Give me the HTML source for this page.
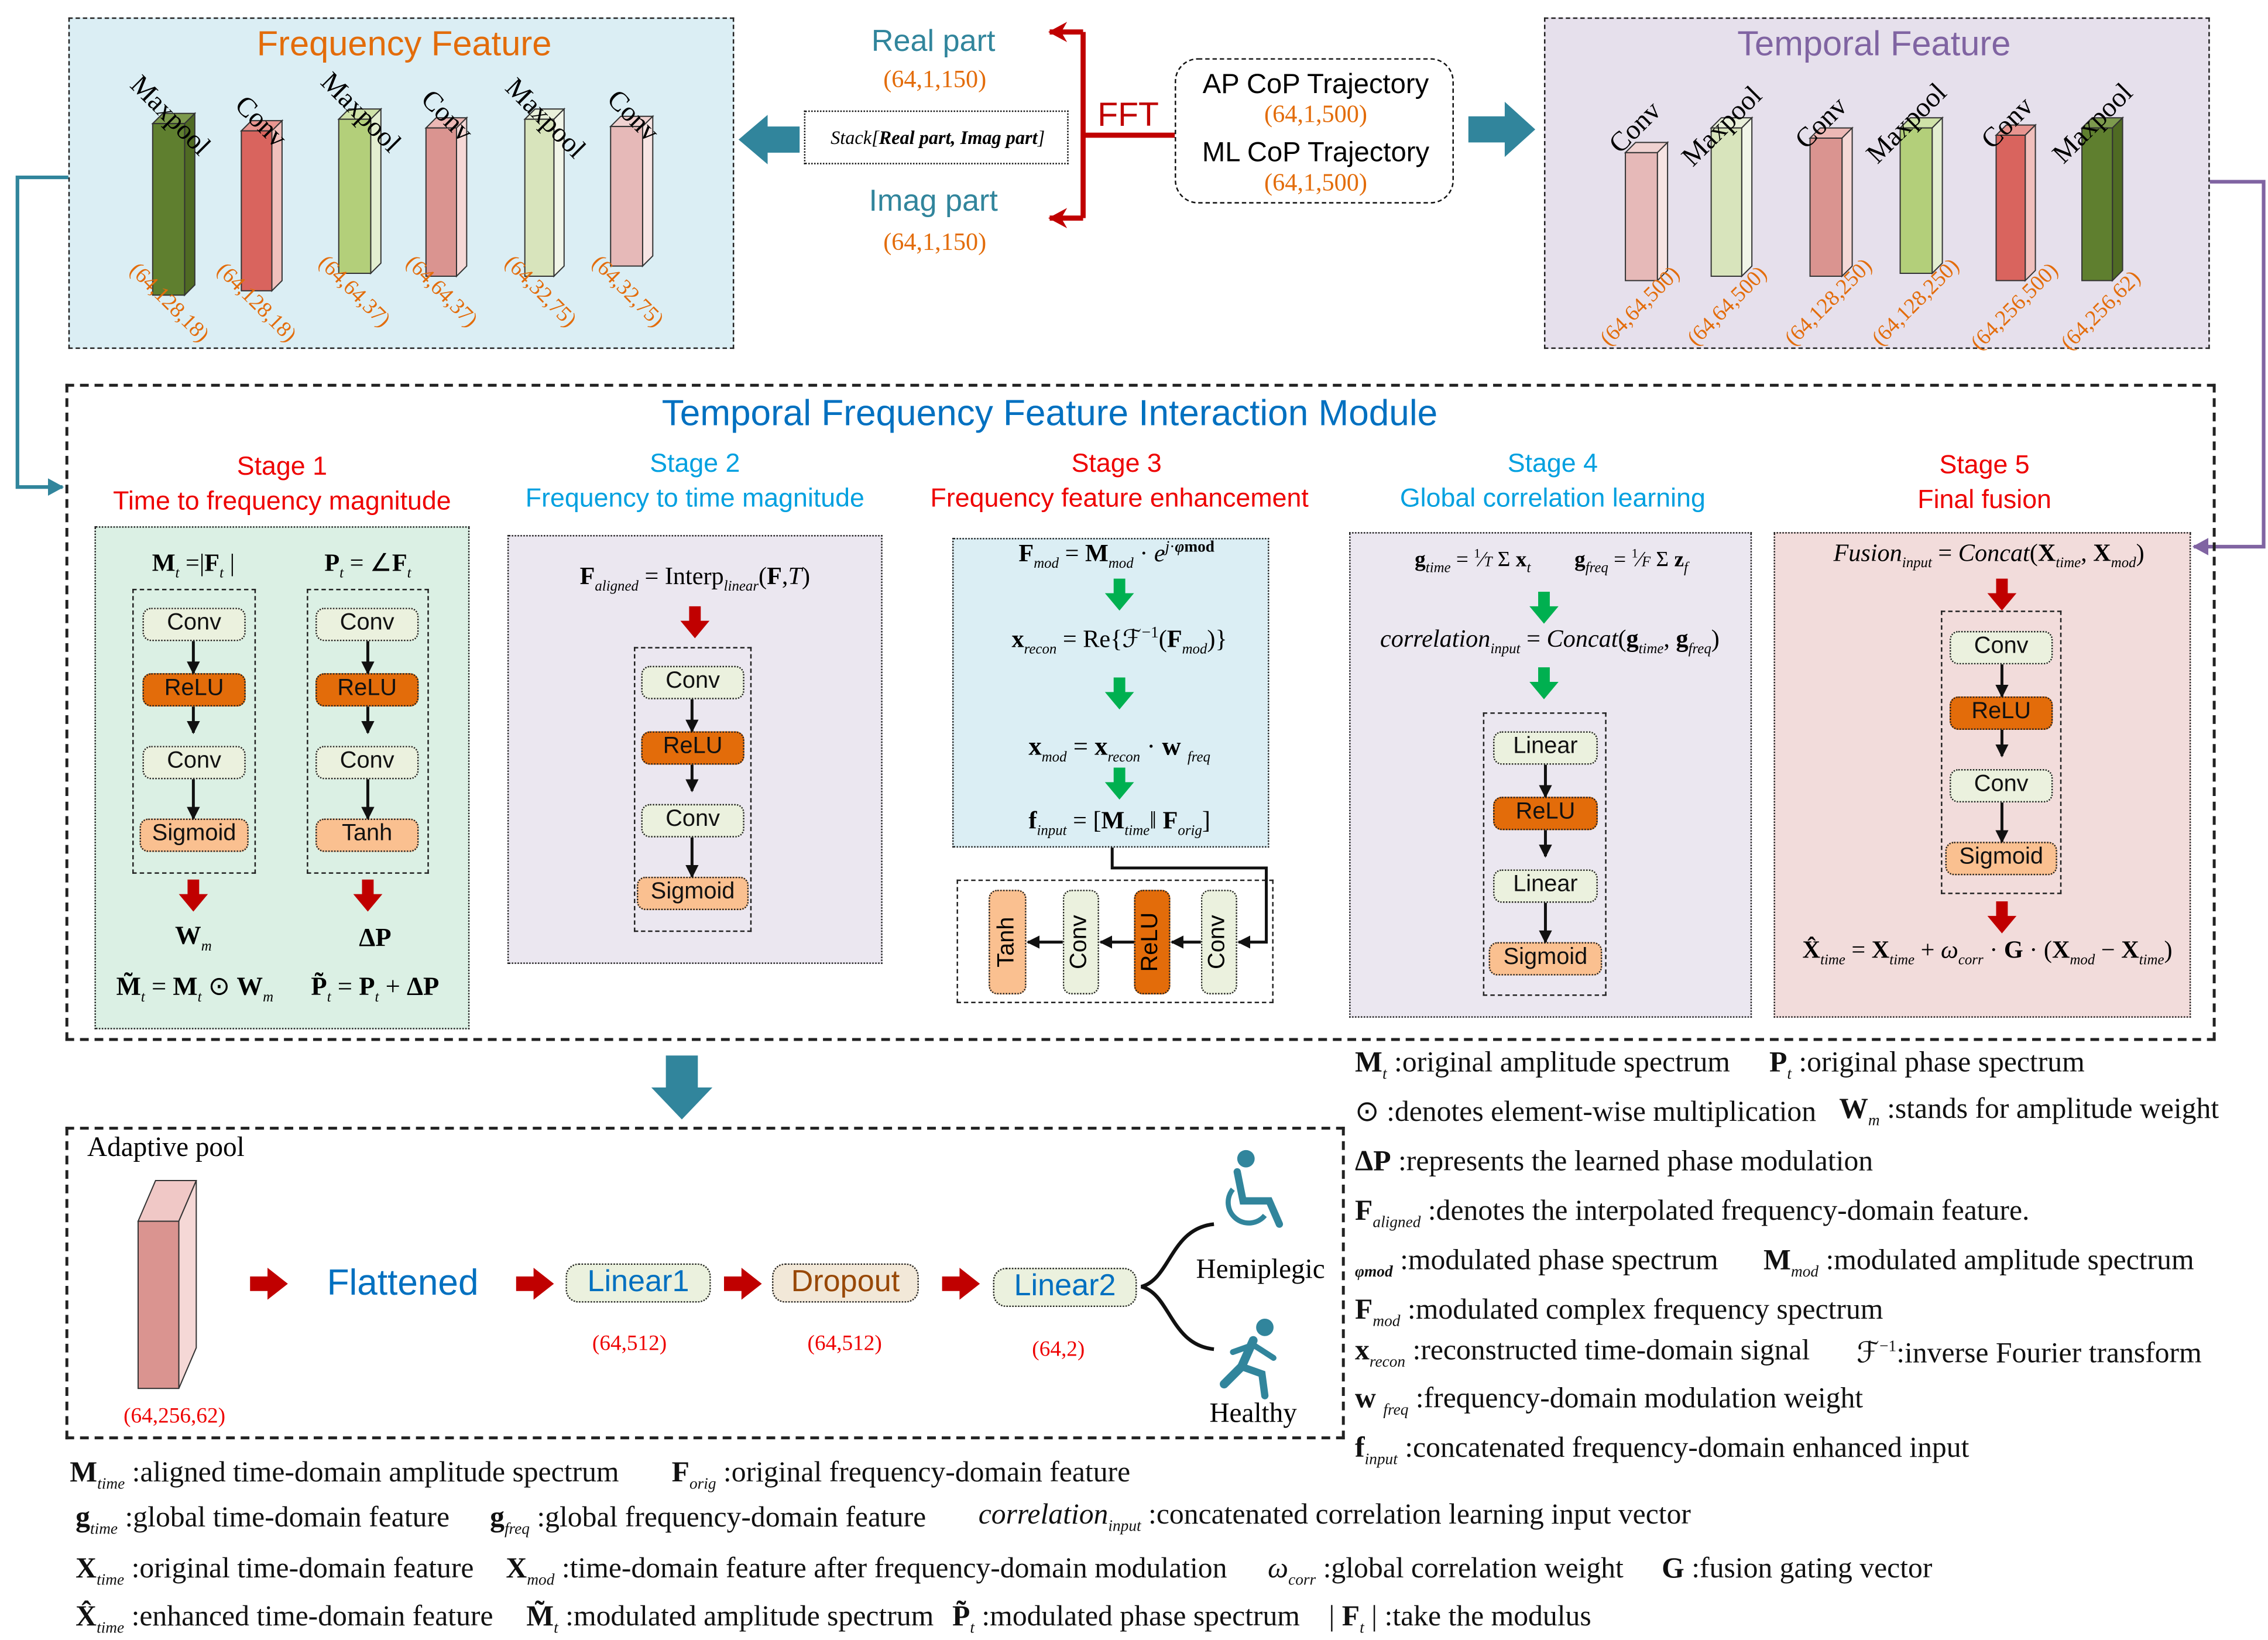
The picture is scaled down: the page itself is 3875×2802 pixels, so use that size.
<!DOCTYPE html>
<html><head><meta charset="utf-8">
<style>
html,body{margin:0;padding:0;background:#fff;}
body{width:3875px;height:2802px;overflow:hidden;position:relative;}
#w{position:absolute;left:0;top:0;width:1560px;height:1128px;transform:scale(2.48397);transform-origin:0 0;font-family:"Liberation Sans",sans-serif;}
.a{position:absolute;white-space:nowrap;}
.c{position:absolute;white-space:nowrap;transform:translate(-50%,-50%);}
.s{font-family:"Liberation Serif",serif;}
.box{position:absolute;box-sizing:border-box;}
.blk{position:absolute;box-sizing:border-box;border:1.6px dotted #222;border-radius:6px;font-size:16px;text-align:center;line-height:20px;background:#ebf1de;color:#111;}
.relu{background:#e36c0a;}
.sig{background:#fac090;}
.dd{position:absolute;box-sizing:border-box;border:1.3px dashed #222;}
.or{color:#e36c0a;font-family:"Liberation Serif",serif;font-size:17px;}
.rd{color:#e00;font-family:"Liberation Serif",serif;font-size:15px;}
.lg{position:absolute;white-space:nowrap;font-family:"Liberation Serif",serif;font-size:20px;color:#111;}
.f{font-family:"Liberation Serif",serif;font-size:16px;}
b{font-weight:bold;}
sub{font-size:10px;font-style:italic;}
.lg sub{font-size:11px;}
.rot{position:absolute;white-space:nowrap;transform-origin:0 0;}
</style></head><body><div id="w">

<div class="box" style="left:47px;top:12px;width:458px;height:228px;background:#dbeef4;border:1.5px dashed #222;"></div>
<div class="c" style="left:278px;top:31px;font-size:24px;color:#e36c0a;">Frequency Feature</div>
<div class="box" style="left:1062px;top:12px;width:458px;height:228px;background:#e6e0ec;border:1.5px dashed #222;"></div>
<div class="c" style="left:1289px;top:31px;font-size:24px;color:#8064a2;">Temporal Feature</div>

<svg class="a" style="left:0;top:0" width="1560" height="1128">
<defs>
<marker id="ar" markerWidth="14" markerHeight="14" refX="12" refY="7" orient="auto" markerUnits="userSpaceOnUse"><path d="M0,0 L13,7 L0,14 L4,7z" fill="#c00000"/></marker>
<marker id="at" markerWidth="12" markerHeight="12" refX="10" refY="6" orient="auto" markerUnits="userSpaceOnUse"><path d="M0,0 L11,6 L0,12z" fill="#31859c"/></marker>
<marker id="ap" markerWidth="12" markerHeight="12" refX="10" refY="6" orient="auto" markerUnits="userSpaceOnUse"><path d="M0,0 L11,6 L0,12z" fill="#8064a2"/></marker>
</defs>
<g stroke="#333" stroke-width="0.8">
<path d="M105,85 h22 l7,-7 h-22z" fill="#7d9a4d"/><path d="M127,85 l7,-7 v118 l-7,7z" fill="#4f6a23"/><rect x="105" y="85" width="22" height="118" fill="#5f7f2f"/>
<path d="M166,90 h21 l7,-7 h-21z" fill="#e89590"/><path d="M187,90 l7,-7 v110 l-7,7z" fill="#f0c0bc"/><rect x="166" y="90" width="21" height="110" fill="#d9645e"/>
<path d="M233,82 h22 l7,-7 h-22z" fill="#cfe2a8"/><path d="M255,82 l7,-7 v106 l-7,7z" fill="#e3eed0"/><rect x="233" y="82" width="22" height="106" fill="#b3cf7a"/>
<path d="M293,88 h21 l7,-7 h-21z" fill="#ecb8b5"/><path d="M314,88 l7,-7 v102 l-7,7z" fill="#f5d8d6"/><rect x="293" y="88" width="21" height="102" fill="#da9490"/>
<path d="M361,82 h20 l7,-7 h-20z" fill="#e9f0da"/><path d="M381,82 l7,-7 v108 l-7,7z" fill="#f1f5e8"/><rect x="361" y="82" width="20" height="108" fill="#d8e4bc"/>
<path d="M420,87 h22 l7,-7 h-22z" fill="#f0d2d1"/><path d="M442,87 l7,-7 v96 l-7,7z" fill="#f7e4e3"/><rect x="420" y="87" width="22" height="96" fill="#e6b9b8"/>
<path d="M1118,105 h22 l7,-7 h-22z" fill="#f0d2d1"/><path d="M1140,105 l7,-7 v88 l-7,7z" fill="#f7e4e3"/><rect x="1118" y="105" width="22" height="88" fill="#e6b9b8"/>
<path d="M1177,88 h21 l7,-7 h-21z" fill="#e9f0da"/><path d="M1198,88 l7,-7 v102 l-7,7z" fill="#f1f5e8"/><rect x="1177" y="88" width="21" height="102" fill="#d8e4bc"/>
<path d="M1245,95 h22 l7,-7 h-22z" fill="#ecb8b5"/><path d="M1267,95 l7,-7 v95 l-7,7z" fill="#f5d8d6"/><rect x="1245" y="95" width="22" height="95" fill="#da9490"/>
<path d="M1307,88 h22 l7,-7 h-22z" fill="#cfe2a8"/><path d="M1329,88 l7,-7 v100 l-7,7z" fill="#e3eed0"/><rect x="1307" y="88" width="22" height="100" fill="#b3cf7a"/>
<path d="M1373,93 h20 l7,-7 h-20z" fill="#e89590"/><path d="M1393,93 l7,-7 v100 l-7,7z" fill="#f0c0bc"/><rect x="1373" y="93" width="20" height="100" fill="#d9645e"/>
<path d="M1432,88 h21 l7,-7 h-21z" fill="#7d9a4d"/><path d="M1453,88 l7,-7 v105 l-7,7z" fill="#4f6a23"/><rect x="1432" y="88" width="21" height="105" fill="#5f7f2f"/>
<path d="M95,840 h28 l12,-28 h-28z" fill="#f0c8c6"/><path d="M123,840 l12,-28 v115 l-12,28z" fill="#f5d8d6"/><rect x="95" y="840" width="28" height="115" fill="#da9490"/>
</g>
<g stroke="#c00000" stroke-width="3.5" fill="none">
<path d="M810,93 H745 M745,22 V150" /><path d="M745,22 H722" marker-end="url(#ar)"/><path d="M745,150 H722" marker-end="url(#ar)"/>
</g>
<path d="M550,87 H528 V79 L508,96 L528,113 V105 H550z" fill="#31859c"/>
<path d="M1010,80 H1035 V70 L1056,89 L1035,108 V98 H1010z" fill="#31859c"/>
<path d="M458,726 H480 V748 H490 L469,770 L448,748 H458z" fill="#31859c"/>
<path d="M47,122 H12 V335 H43" stroke="#31859c" stroke-width="2.5" fill="none" marker-end="url(#at)"/>
<path d="M1520,125 H1557 V376 H1509" stroke="#8064a2" stroke-width="2.5" fill="none" marker-end="url(#ap)"/>
</svg>

<div class="rot s" style="left:100px;top:48px;font-size:19px;transform:rotate(45deg);">Maxpool</div>
<div class="rot s" style="left:172px;top:62px;font-size:19px;transform:rotate(45deg);">Conv</div>
<div class="rot s" style="left:231px;top:46px;font-size:19px;transform:rotate(45deg);">Maxpool</div>
<div class="rot s" style="left:300px;top:58px;font-size:19px;transform:rotate(45deg);">Conv</div>
<div class="rot s" style="left:358px;top:50px;font-size:19px;transform:rotate(45deg);">Maxpool</div>
<div class="rot s" style="left:428px;top:58px;font-size:19px;transform:rotate(45deg);">Conv</div>
<div class="rot or" style="left:97px;top:178px;font-size:15px;transform:rotate(45deg);">(64,128,18)</div>
<div class="rot or" style="left:157px;top:178px;font-size:15px;transform:rotate(45deg);">(64,128,18)</div>
<div class="rot or" style="left:227px;top:173px;font-size:15px;transform:rotate(45deg);">(64,64,37)</div>
<div class="rot or" style="left:287px;top:173px;font-size:15px;transform:rotate(45deg);">(64,64,37)</div>
<div class="rot or" style="left:355px;top:173px;font-size:15px;transform:rotate(45deg);">(64,32,75)</div>
<div class="rot or" style="left:415px;top:173px;font-size:15px;transform:rotate(45deg);">(64,32,75)</div>
<div class="rot s" style="left:1103px;top:95px;font-size:19px;transform:rotate(-45deg);">Conv</div>
<div class="rot s" style="left:1153px;top:104px;font-size:19px;transform:rotate(-45deg);">Maxpool</div>
<div class="rot s" style="left:1231px;top:92px;font-size:19px;transform:rotate(-45deg);">Conv</div>
<div class="rot s" style="left:1280px;top:102px;font-size:19px;transform:rotate(-45deg);">Maxpool</div>
<div class="rot s" style="left:1359px;top:92px;font-size:19px;transform:rotate(-45deg);">Conv</div>
<div class="rot s" style="left:1408px;top:102px;font-size:19px;transform:rotate(-45deg);">Maxpool</div>
<div class="rot or" style="left:1098px;top:230px;font-size:15px;transform:rotate(-45deg);">(64,64,500)</div>
<div class="rot or" style="left:1158px;top:230px;font-size:15px;transform:rotate(-45deg);">(64,64,500)</div>
<div class="rot or" style="left:1225px;top:230px;font-size:15px;transform:rotate(-45deg);">(64,128,250)</div>
<div class="rot or" style="left:1285px;top:230px;font-size:15px;transform:rotate(-45deg);">(64,128,250)</div>
<div class="rot or" style="left:1353px;top:233px;font-size:15px;transform:rotate(-45deg);">(64,256,500)</div>
<div class="rot or" style="left:1415px;top:233px;font-size:15px;transform:rotate(-45deg);">(64,256,62)</div>

<div class="c" style="left:642px;top:29px;font-size:21px;color:#31859c;">Real part</div>
<div class="c or" style="left:643px;top:55px;">(64,1,150)</div>
<div class="box" style="left:553px;top:76px;width:182px;height:37px;border:1.5px dotted #111;"></div>
<div class="c s" style="left:645px;top:95px;font-size:13px;font-style:italic;">Stack[<b>Real part, Imag part</b>]</div>
<div class="c" style="left:776px;top:79px;font-size:23px;color:#c00000;">FFT</div>
<div class="c" style="left:642px;top:139px;font-size:21px;color:#31859c;">Imag part</div>
<div class="c or" style="left:643px;top:167px;">(64,1,150)</div>
<div class="box" style="left:808px;top:40px;width:192px;height:100px;border:1.8px dashed #111;border-radius:16px;background:#fff;"></div>
<div class="c" style="left:905px;top:59px;font-size:19px;">AP CoP Trajectory</div>
<div class="c or" style="left:905px;top:79px;">(64,1,500)</div>
<div class="c" style="left:905px;top:106px;font-size:19px;">ML CoP Trajectory</div>
<div class="c or" style="left:905px;top:126px;">(64,1,500)</div>

<div class="box" style="left:45px;top:264px;width:1479px;height:452px;border:2px dashed #222;"></div>
<div class="c" style="left:722px;top:285px;font-size:25px;color:#0070c0;">Temporal Frequency Feature Interaction Module</div>

<div class="c" style="left:194px;top:321px;font-size:18px;color:#e00;">Stage 1</div>
<div class="c" style="left:194px;top:345px;font-size:18px;color:#e00;">Time to frequency magnitude</div>
<div class="c" style="left:478px;top:319px;font-size:18px;color:#00a0e0;">Stage 2</div>
<div class="c" style="left:478px;top:343px;font-size:18px;color:#00a0e0;">Frequency to time magnitude</div>
<div class="c" style="left:768px;top:319px;font-size:18px;color:#e00;">Stage 3</div>
<div class="c" style="left:770px;top:343px;font-size:18px;color:#e00;">Frequency feature enhancement</div>
<div class="c" style="left:1068px;top:319px;font-size:18px;color:#00a0e0;">Stage 4</div>
<div class="c" style="left:1068px;top:343px;font-size:18px;color:#00a0e0;">Global correlation learning</div>
<div class="c" style="left:1365px;top:320px;font-size:18px;color:#e00;">Stage 5</div>
<div class="c" style="left:1365px;top:344px;font-size:18px;color:#e00;">Final fusion</div>

<div class="box" style="left:65px;top:362px;width:258px;height:346px;background:#dbf0e4;border:1.5px dotted #222;"></div>
<div class="box" style="left:349px;top:368px;width:258px;height:295px;background:#ebe7f0;border:1.5px dotted #222;"></div>
<div class="box" style="left:655px;top:370px;width:218px;height:213px;background:#dbeef4;border:1.5px dotted #222;"></div>
<div class="box" style="left:658px;top:605px;width:218px;height:85px;border:1.5px dashed #222;"></div>
<div class="box" style="left:928px;top:366px;width:277px;height:334px;background:#ebe7f0;border:1.5px dotted #222;"></div>
<div class="box" style="left:1220px;top:366px;width:287px;height:334px;background:#f2dcdb;border:1.5px dotted #222;"></div>

<div class="c f" style="left:133px;top:389px;font-size:17px;"><b>M</b><sub>t</sub> =|<b>F</b><sub>t</sub> |</div>
<div class="c f" style="left:253px;top:389px;font-size:17px;"><b>P</b><sub>t</sub> = ∠<b>F</b><sub>t</sub></div>
<div class="dd" style="left:91px;top:405px;width:85px;height:196px;"></div>
<div class="dd" style="left:211px;top:405px;width:84px;height:196px;"></div>
<div class="blk" style="left:98px;top:418px;width:71px;height:23px;">Conv</div>
<div class="blk relu" style="left:98px;top:463px;width:71px;height:23px;">ReLU</div>
<div class="blk" style="left:98px;top:513px;width:71px;height:23px;">Conv</div>
<div class="blk sig" style="left:96px;top:563px;width:75px;height:23px;">Sigmoid</div>
<div class="blk" style="left:217px;top:418px;width:71px;height:23px;">Conv</div>
<div class="blk relu" style="left:217px;top:463px;width:71px;height:23px;">ReLU</div>
<div class="blk" style="left:217px;top:513px;width:71px;height:23px;">Conv</div>
<div class="blk sig" style="left:217px;top:563px;width:71px;height:23px;">Tanh</div>
<div class="c f" style="left:133px;top:645px;font-size:18px;"><b>W</b><sub>m</sub></div>
<div class="c f" style="left:258px;top:645px;font-size:18px;"><b>ΔP</b></div>
<div class="c f" style="left:134px;top:680px;font-size:18px;"><b>M̃</b><sub>t</sub> = <b>M</b><sub>t</sub> ⊙ <b>W</b><sub>m</sub></div>
<div class="c f" style="left:258px;top:680px;font-size:18px;"><b>P̃</b><sub>t</sub> = <b>P</b><sub>t</sub> + <b>ΔP</b></div>

<div class="c f" style="left:478px;top:398px;font-size:17px;"><b>F</b><sub>aligned</sub> = Interp<sub>linear</sub>(<b>F</b>,<i>T</i>)</div>
<div class="dd" style="left:436px;top:445px;width:81px;height:196px;"></div>
<div class="blk" style="left:441px;top:458px;width:71px;height:23px;">Conv</div>
<div class="blk relu" style="left:441px;top:503px;width:71px;height:23px;">ReLU</div>
<div class="blk" style="left:441px;top:553px;width:71px;height:23px;">Conv</div>
<div class="blk sig" style="left:438px;top:603px;width:77px;height:23px;">Sigmoid</div>

<div class="c f" style="left:768px;top:382px;font-size:17px;"><b>F</b><sub>mod</sub> = <b>M</b><sub>mod</sub> · <i>e</i><sup style="font-size:11px"><i>j</i>·<b><i>φ</i>mod</b></sup></div>
<div class="c f" style="left:770px;top:441px;font-size:17px;"><b>x</b><sub>recon</sub> = Re{ℱ<sup style="font-size:11px">−1</sup>(<b>F</b><sub>mod</sub>)}</div>
<div class="c f" style="left:770px;top:515px;font-size:18px;"><b>x</b><sub>mod</sub> = <b>x</b><sub>recon</sub> · <b>w</b> <sub>freq</sub></div>
<div class="c f" style="left:770px;top:566px;font-size:17px;"><b>f</b><sub>input</sub> = [<b>M</b><sub>time</sub>‖ <b>F</b><sub>orig</sub>]</div>
<div class="blk sig" style="left:680px;top:612px;width:26px;height:72px;"></div>
<div class="c" style="left:693px;top:648px;font-size:16px;transform:translate(-50%,-50%) rotate(-90deg);">Tanh</div>
<div class="blk" style="left:731px;top:612px;width:25px;height:72px;"></div>
<div class="c" style="left:743px;top:648px;font-size:16px;transform:translate(-50%,-50%) rotate(-90deg);">Conv</div>
<div class="blk relu" style="left:780px;top:612px;width:25px;height:72px;"></div>
<div class="c" style="left:792px;top:648px;font-size:16px;transform:translate(-50%,-50%) rotate(-90deg);">ReLU</div>
<div class="blk" style="left:826px;top:612px;width:25px;height:72px;"></div>
<div class="c" style="left:838px;top:648px;font-size:16px;transform:translate(-50%,-50%) rotate(-90deg);">Conv</div>

<div class="c f" style="left:1013px;top:386px;font-size:15px;"><b>g</b><sub>time</sub> = <sup style="font-size:9px">1</sup>⁄<i style="font-size:10px">T</i> Σ <b>x</b><sub>t</sub></div>
<div class="c f" style="left:1122px;top:386px;font-size:15px;"><b>g</b><sub>freq</sub> = <sup style="font-size:9px">1</sup>⁄<i style="font-size:10px">F</i> Σ <b>z</b><sub>f</sub></div>
<div class="c f" style="left:1066px;top:441px;font-size:17px;"><i>correlation</i><sub>input</sub> = <i>Concat</i>(<b>g</b><sub>time</sub>, <b>g</b><sub>freq</sub>)</div>
<div class="dd" style="left:1020px;top:490px;width:85px;height:195px;"></div>
<div class="blk" style="left:1027px;top:503px;width:72px;height:23px;">Linear</div>
<div class="blk relu" style="left:1027px;top:548px;width:72px;height:23px;">ReLU</div>
<div class="blk" style="left:1027px;top:598px;width:72px;height:23px;">Linear</div>
<div class="blk sig" style="left:1024px;top:648px;width:78px;height:23px;">Sigmoid</div>

<div class="c f" style="left:1368px;top:382px;font-size:17px;"><i>Fusion</i><sub>input</sub> = <i>Concat</i>(<b>X</b><sub>time</sub>, <b>X</b><sub>mod</sub>)</div>
<div class="dd" style="left:1335px;top:420px;width:83px;height:195px;"></div>
<div class="blk" style="left:1341px;top:434px;width:71px;height:23px;">Conv</div>
<div class="blk relu" style="left:1341px;top:479px;width:71px;height:23px;">ReLU</div>
<div class="blk" style="left:1341px;top:529px;width:71px;height:23px;">Conv</div>
<div class="blk sig" style="left:1338px;top:579px;width:77px;height:23px;">Sigmoid</div>
<div class="c f" style="left:1367px;top:655px;font-size:17px;"><b>X̂</b><sub>time</sub> = <b>X</b><sub>time</sub> + <i>ω</i><sub>corr</sub> · <b>G</b> · (<b>X</b><sub>mod</sub> − <b>X</b><sub>time</sub>)</div>

<div class="box" style="left:45px;top:775px;width:880px;height:215px;border:2px dashed #222;"></div>
<div class="a s" style="left:60px;top:779px;font-size:19px;">Adaptive pool</div>
<div class="c rd" style="left:120px;top:975px;">(64,256,62)</div>
<div class="c" style="left:277px;top:883px;font-size:25px;color:#0070c0;">Flattened</div>
<div class="blk" style="left:389px;top:869px;width:100px;height:27px;font-size:21px;line-height:24px;color:#0070c0;border-radius:9px;">Linear1</div>
<div class="blk" style="left:531px;top:869px;width:101px;height:27px;font-size:21px;line-height:24px;color:#984807;background:#f2e8d8;border-radius:9px;">Dropout</div>
<div class="blk" style="left:683px;top:872px;width:99px;height:27px;font-size:21px;line-height:24px;color:#0070c0;border-radius:9px;">Linear2</div>
<div class="c rd" style="left:433px;top:925px;">(64,512)</div>
<div class="c rd" style="left:581px;top:925px;">(64,512)</div>
<div class="c rd" style="left:728px;top:929px;">(64,2)</div>
<div class="c s" style="left:867px;top:874px;font-size:19px;">Hemiplegic</div>
<div class="c s" style="left:862px;top:973px;font-size:19px;">Healthy</div>

<svg class="a" style="left:0;top:0" width="1560" height="1128">
<defs>
<marker id="k2" markerWidth="9" markerHeight="9" refX="8" refY="4.5" orient="auto" markerUnits="userSpaceOnUse"><path d="M0,0 L9,4.5 L0,9z" fill="#111"/></marker>
</defs>
<g stroke="#111" stroke-width="2" fill="none" marker-end="url(#k2)">
<path d="M133,441 V463"/><path d="M133,486 V504"/><path d="M133,536 V563"/>
<path d="M253,441 V463"/><path d="M253,486 V504"/><path d="M253,536 V563"/>
<path d="M476,481 V503"/><path d="M476,526 V544"/><path d="M476,576 V603"/>
<path d="M1063,526 V548"/><path d="M1063,571 V589"/><path d="M1063,621 V648"/>
<path d="M1377,457 V479"/><path d="M1377,502 V520"/><path d="M1377,552 V579"/>
<path d="M826,648 H806"/><path d="M780,648 H757"/><path d="M731,648 H707"/>
<path d="M765,583 V597 H871 V648 H852"/>
</g>
<g fill="#c00000">
<path d="M129,605 h8 v10 h6 l-10,12 l-10,-12 h6z"/>
<path d="M249,605 h8 v10 h6 l-10,12 l-10,-12 h6z"/>
<path d="M474,417 h8 v10 h6 l-10,12 l-10,-12 h6z"/>
<path d="M1373,398 h8 v10 h6 l-10,12 l-10,-12 h6z"/>
<path d="M1373,620 h8 v10 h6 l-10,12 l-10,-12 h6z"/>
<path d="M172,878 h12 v-6 l14,11 l-14,11 v-6 h-12z"/>
<path d="M355,878 h12 v-6 l14,11 l-14,11 v-6 h-12z"/>
<path d="M498,878 h12 v-6 l14,11 l-14,11 v-6 h-12z"/>
<path d="M648,878 h12 v-6 l14,11 l-14,11 v-6 h-12z"/>
</g>
<g fill="#00b050">
<path d="M766,398 h8 v10 h6 l-10,12 l-10,-12 h6z"/>
<path d="M766,466 h8 v10 h6 l-10,12 l-10,-12 h6z"/>
<path d="M766,528 h8 v10 h6 l-10,12 l-10,-12 h6z"/>
<path d="M1058,407 h8 v10 h6 l-10,12 l-10,-12 h6z"/>
<path d="M1058,459 h8 v10 h6 l-10,12 l-10,-12 h6z"/>
</g>
<path d="M835,842 C805,845 805,880 785,885 C805,890 805,925 835,928" stroke="#111" stroke-width="2.5" fill="none"/>
<g fill="#31859c" stroke="#31859c">
<circle cx="857" cy="797" r="6" stroke="none"/>
<path d="M851,806 L855,826 L873,826 L880,842" stroke-width="5" fill="none" stroke-linecap="round"/>
<path d="M848,818 A13,13 0 1 0 870,836" stroke-width="3.5" fill="none"/>
</g>
<g fill="#31859c" stroke="#31859c" stroke-linecap="round">
<circle cx="870" cy="913" r="6" stroke="none"/>
<path d="M862,922 L854,940 L842,952" stroke-width="6" fill="none"/>
<path d="M854,940 L868,945 L870,960" stroke-width="5" fill="none"/>
<path d="M862,925 L848,930 M862,925 L876,934" stroke-width="4" fill="none"/>
</g>
</svg>

<div class="lg" style="left:932px;top:720px;"><b>M</b><sub>t</sub> :original amplitude spectrum</div>
<div class="lg" style="left:1217px;top:720px;"><b>P</b><sub>t</sub> :original phase spectrum</div>
<div class="lg" style="left:932px;top:752px;">⊙ :denotes element-wise multiplication</div>
<div class="lg" style="left:1265px;top:752px;"><b>W</b><sub>m</sub> :stands for amplitude weight</div>
<div class="lg" style="left:932px;top:788px;"><b>ΔP</b> :represents the learned phase modulation</div>
<div class="lg" style="left:932px;top:822px;"><b>F</b><sub>aligned</sub> :denotes the interpolated frequency-domain feature.</div>
<div class="lg" style="left:932px;top:856px;"><sub><b>φmod</b></sub> :modulated phase spectrum</div>
<div class="lg" style="left:1213px;top:856px;"><b>M</b><sub>mod</sub> :modulated amplitude spectrum</div>
<div class="lg" style="left:932px;top:890px;"><b>F</b><sub>mod</sub> :modulated complex frequency spectrum</div>
<div class="lg" style="left:932px;top:918px;"><b>x</b><sub>recon</sub> :reconstructed time-domain signal</div>
<div class="lg" style="left:1277px;top:918px;">ℱ<sup style="font-size:11px">−1</sup>:inverse Fourier transform</div>
<div class="lg" style="left:932px;top:951px;"><b>w</b> <sub>freq</sub> :frequency-domain modulation weight</div>
<div class="lg" style="left:932px;top:985px;"><b>f</b><sub>input</sub> :concatenated frequency-domain enhanced input</div>
<div class="lg" style="left:48px;top:1002px;"><b>M</b><sub>time</sub> :aligned time-domain amplitude spectrum</div>
<div class="lg" style="left:462px;top:1002px;"><b>F</b><sub>orig</sub> :original frequency-domain feature</div>
<div class="lg" style="left:52px;top:1033px;"><b>g</b><sub>time</sub> :global time-domain feature</div>
<div class="lg" style="left:337px;top:1033px;"><b>g</b><sub>freq</sub> :global frequency-domain feature</div>
<div class="lg" style="left:673px;top:1031px;"><i>correlation</i><sub>input</sub> :concatenated correlation learning input vector</div>
<div class="lg" style="left:52px;top:1068px;"><b>X</b><sub>time</sub> :original time-domain feature</div>
<div class="lg" style="left:348px;top:1068px;"><b>X</b><sub>mod</sub> :time-domain feature after frequency-domain modulation</div>
<div class="lg" style="left:872px;top:1068px;"><i>ω</i><sub>corr</sub> :global correlation weight</div>
<div class="lg" style="left:1143px;top:1068px;"><b>G</b> :fusion gating vector</div>
<div class="lg" style="left:52px;top:1101px;"><b>X̂</b><sub>time</sub> :enhanced time-domain feature</div>
<div class="lg" style="left:362px;top:1101px;"><b>M̃</b><sub>t</sub> :modulated amplitude spectrum</div>
<div class="lg" style="left:655px;top:1101px;"><b>P̃</b><sub>t</sub> :modulated phase spectrum</div>
<div class="lg" style="left:914px;top:1101px;">| <b>F</b><sub>t</sub> | :take the modulus</div>

</div></body></html>
